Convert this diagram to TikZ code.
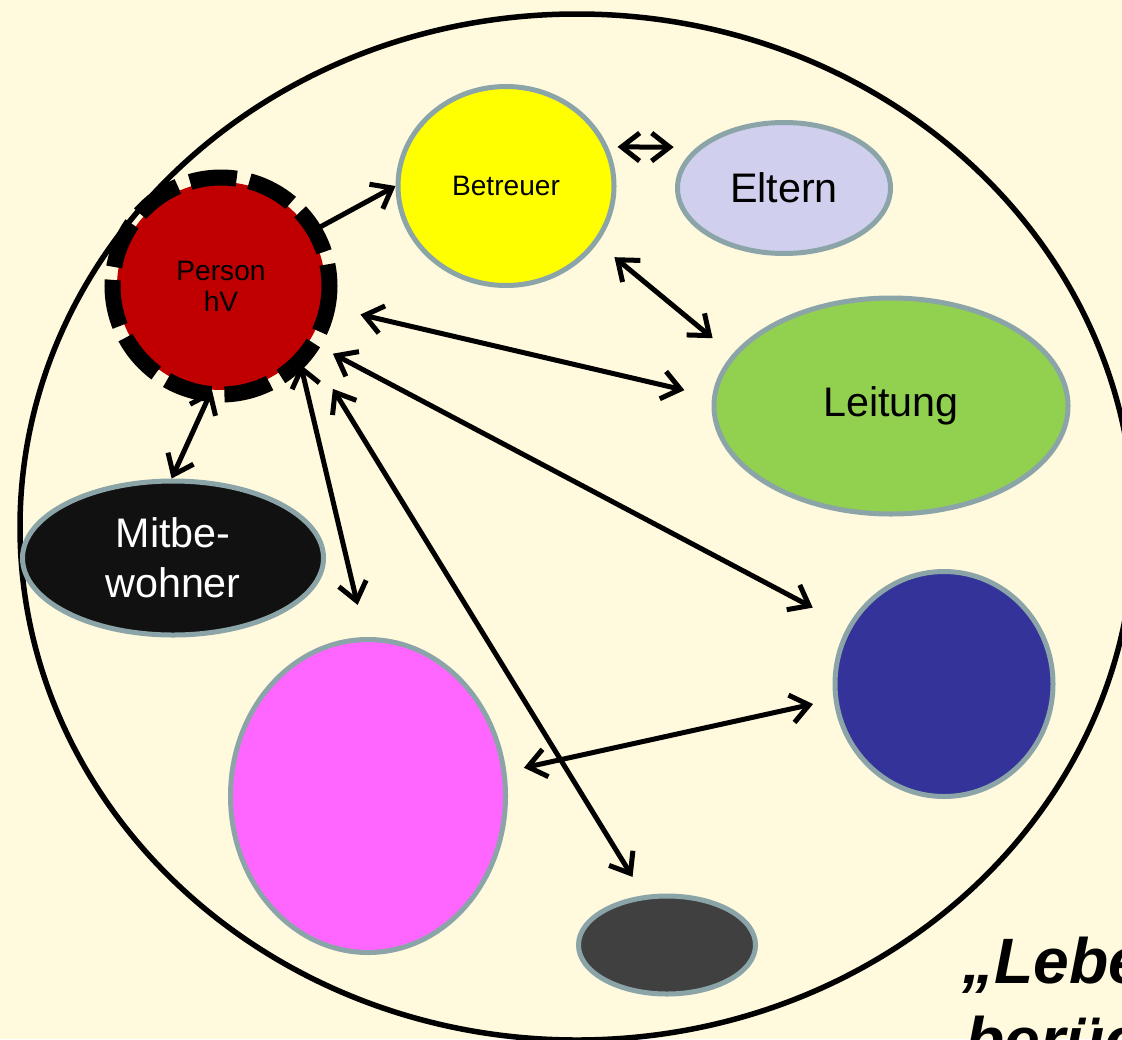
\documentclass[tikz,border=0pt]{standalone}
\usepackage{fontspec}
\setmainfont{Liberation Sans}
\usepackage{tikz}
\usetikzlibrary{arrows.meta,shapes.geometric}
\definecolor{bg}{HTML}{FFF9DE}
\definecolor{rim}{HTML}{8BA4A8}
\definecolor{personred}{HTML}{C00000}
\definecolor{betyellow}{HTML}{FFFF00}
\definecolor{elternlila}{HTML}{D0D0EE}
\definecolor{leitgreen}{HTML}{92D050}
\definecolor{mitblack}{HTML}{111111}
\definecolor{rosa}{HTML}{FF66FF}
\definecolor{blau}{HTML}{333399}
\definecolor{grau}{HTML}{404040}
\tikzset{
  world/.style={draw=black, line width=1.1mm},
  blob/.style={ellipse, draw=rim, line width=1mm, inner sep=0pt, align=center},
  link/.style={draw=black, line width=1mm, line cap=round, line join=round},
  one/.style={link, -{Straight Barb[length=3.6mm,width=5.6mm]}},
  both/.style={link, {Straight Barb[length=3.6mm,width=5.6mm]}-{Straight Barb[length=3.6mm,width=5.6mm]}},
  ring/.style={draw=black, line width=3.2mm, dash pattern=on 9.4mm off 2.6mm},
  big/.style={font=\fontsize{23.5}{28.4}\selectfont},
  small/.style={font=\fontsize{16}{17.6}\selectfont},
  motto/.style={font=\fontsize{36.5}{44}\selectfont\bfseries\itshape, inner sep=0pt},
}
\begin{document}
\begin{tikzpicture}[x=0.2mm, y=-0.2mm]
\useasboundingbox (0,0) rectangle (1122,1039);
\fill[bg] (0,0) rectangle (1122,1039);
\clip (0,0) rectangle (1122,1039);
% outer world
\draw[world] (577,527) ellipse [x radius=557, y radius=513];
% people and groups
\node[circle, fill=personred, minimum size=41.6mm, inner sep=0pt, small, align=center] (person) at (221,286) {Person\\hV};
\draw[ring] (person.center) circle [radius=108.5];
\node[blob, fill=betyellow, minimum width=43.2mm, minimum height=39.8mm, small] (betreuer) at (506,186) {Betreuer};
\node[blob, fill=elternlila, minimum width=42.6mm, minimum height=26.2mm, big] (eltern) at (784,188) {Eltern};
\node[blob, fill=leitgreen, minimum width=70.8mm, minimum height=43.2mm, big] (leitung) at (891,406) {Leitung};
\node[blob, fill=mitblack, minimum width=60.2mm, minimum height=30.8mm, big, text=white] (mitbewohner) at (173,558) {Mitbe-\\wohner};
\node[blob, fill=rosa, minimum width=55mm, minimum height=62.6mm] (rosa) at (368,796) {};
\node[blob, fill=blau, minimum width=43.6mm, minimum height=45mm] (blau) at (944,684) {};
\node[blob, fill=grau, minimum width=35.4mm, minimum height=19.6mm] (grau) at (667,945) {};
% relations
\draw[one, shorten <=1.8mm] (person.31) -- (betreuer.180);
\draw[both, shorten <=1.9mm, shorten >=4.6mm] (betreuer.21) -- (eltern.155);
\draw[both, shorten <=4.4mm, shorten >=5.1mm] (betreuer.-32) -- (leitung.162);
\draw[both, shorten <=7.6mm, shorten >=5.7mm] (person.-11) -- (leitung.177);
\draw[both] (person.-95) -- (mitbewohner.91);
\draw[both, shorten <=5.3mm, shorten >=7.9mm] (person.-32) -- (blau.149);
\draw[both, shorten <=1.8mm, shorten >=6.6mm] (person.-42) -- (rosa.91);
\draw[both, shorten <=10.1mm, shorten >=4.3mm] (person.-35) -- (grau.115);
\draw[both, shorten <=3.6mm, shorten >=4.2mm] (rosa.10) -- (blau.-172);
% caption, cut off by the page
\node[motto, anchor=base west] (motto1) at (962,983) {„Lebenswelt};
\node[motto, anchor=base west] (motto2) at (965,1062) {berücksichtigen“};
\end{tikzpicture}
\end{document}
